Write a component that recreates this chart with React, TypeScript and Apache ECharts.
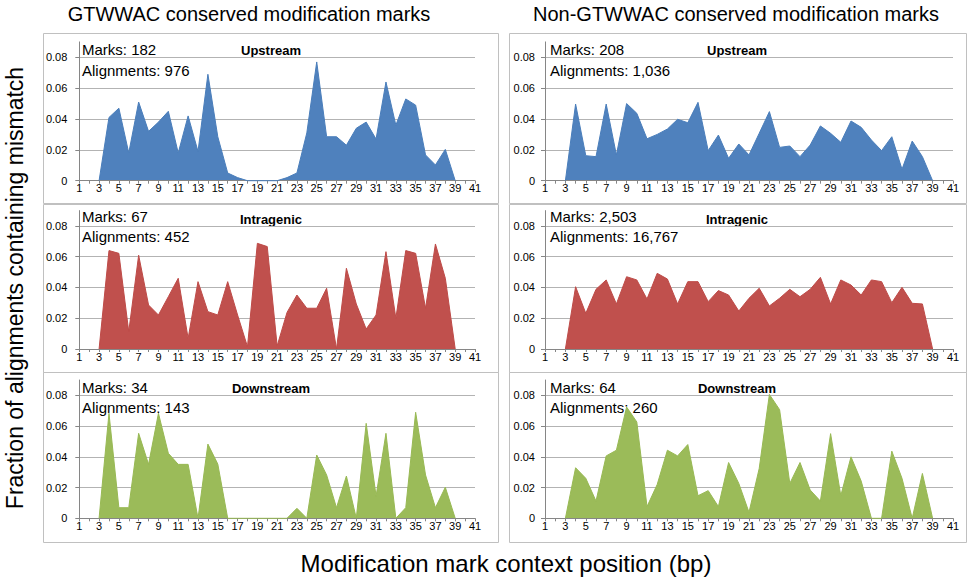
import React, { useEffect, useRef } from "react";
import * as echarts from "echarts";

const positions: string[] = Array.from({ length: 41 }, (_, i) => String(i + 1));

const gtUp = [null, null, 0, 0.041, 0.047, 0.018, 0.051, 0.032, 0.038, 0.045, 0.018, 0.042, 0.019, 0.069, 0.0285, 0.005, 0.002, 0, 0, 0, 0, 0.002, 0.005, 0.031, 0.077, 0.0285, 0.0285, 0.023, 0.034, 0.038, 0.027, 0.064, 0.036, 0.053, 0.049, 0.0167, 0.0102, 0.0203, 0, null, null];
const ngUp = [null, null, 0, 0.0497, 0.0162, 0.0156, 0.0497, 0.0167, 0.05, 0.0437, 0.0272, 0.03, 0.0335, 0.0398, 0.0376, 0.0508, 0.0195, 0.0296, 0.0145, 0.0238, 0.0167, 0.0307, 0.0448, 0.0216, 0.0225, 0.0156, 0.0231, 0.0355, 0.0307, 0.0249, 0.0387, 0.0346, 0.0264, 0.0195, 0.0285, 0.0074, 0.0257, 0.0156, 0, null, null];
const gtIntra = [null, null, 0, 0.064, 0.0622, 0.0113, 0.061, 0.0286, 0.0221, 0.034, 0.046, 0.0069, 0.0438, 0.0243, 0.0221, 0.0438, 0.0221, 0.0015, 0.0687, 0.0666, 0.002, 0.0238, 0.0351, 0.0265, 0.0265, 0.0395, 0, 0.0525, 0.0293, 0.013, 0.0221, 0.0633, 0.02, 0.064, 0.0622, 0.0265, 0.0683, 0.046, 0, null, null];
const ngIntra = [null, null, 0, 0.0405, 0.0232, 0.0388, 0.0449, 0.0293, 0.047, 0.0449, 0.0325, 0.0492, 0.0455, 0.0293, 0.0438, 0.0438, 0.0308, 0.038, 0.0351, 0.0247, 0.033, 0.0395, 0.028, 0.033, 0.0388, 0.034, 0.0388, 0.0466, 0.0293, 0.0449, 0.0416, 0.0351, 0.0449, 0.0438, 0.0301, 0.0401, 0.0297, 0.0293, 0, null, null];
const gtDown = [null, null, 0, 0.0683, 0.0069, 0.0069, 0.0553, 0.0351, 0.0683, 0.0423, 0.0351, 0.0351, 0, 0.0483, 0.0353, 0, 0, 0, 0, 0, 0, 0, 0.0065, 0, 0.0412, 0.0282, 0.0069, 0.0275, 0, 0.0618, 0.0145, 0.0553, 0, 0.0069, 0.069, 0.0282, 0.0069, 0.0202, 0, null, null];
const ngDown = [null, null, 0, 0.0329, 0.026, 0.0112, 0.0406, 0.0443, 0.0724, 0.0627, 0.0076, 0.022, 0.0443, 0.0406, 0.048, 0.0147, 0.018, 0.0076, 0.0363, 0.0227, 0.0039, 0.0324, 0.0806, 0.0707, 0.0227, 0.0363, 0.0184, 0.0112, 0.0551, 0.0147, 0.04, 0.0242, 0, 0, 0.0437, 0.026, 0, 0.0292, 0, null, null];

const columnTitles = ["GTWWAC conserved modification marks", "Non-GTWWAC conserved modification marks"];
const regionNames = ["Upstream", "Intragenic", "Downstream"];
const marksLabels = [["Marks: 182", "Marks: 67", "Marks: 34"], ["Marks: 208", "Marks: 2,503", "Marks: 64"]];
const alignLabels = [["Alignments: 976", "Alignments: 452", "Alignments: 143"], ["Alignments: 1,036", "Alignments: 16,767", "Alignments: 260"]];
const yTitle = "Fraction of alignments containing mismatch";
const xTitle = "Modification mark context position (bp)";

const panelData = [[gtUp, gtIntra, gtDown], [ngUp, ngIntra, ngDown]];
const rowColors = ["#4F81BD", "#C0504D", "#9BBB59"];
const rowLineColors = ["#4A7EBB", "#BE4B48", "#98B954"];

const FONT = "'Liberation Sans', Arial, sans-serif";

export default function App() {
  const ref = useRef<HTMLDivElement>(null);
  useEffect(() => {
    if (!ref.current) return;
    const chart = echarts.init(ref.current, undefined, { renderer: "svg" });

    const colGeom = [
      { left: 79.3, width: 395.7, box: [43, 498], marksX: 82, regionX: 271, titleX: 249 },
      { left: 545, width: 408, box: [509, 966], marksX: 550, regionX: 737, titleX: 736 },
    ];
    const rowGeom = [
      { top: 41.9, height: 138.8, box: [33, 203], marksY: 49.3, alignY: 70, regionY: 50.7 },
      { top: 210.6, height: 138.4, box: [204, 372], marksY: 216.7, alignY: 236.7, regionY: 219.3 },
      { top: 380, height: 138.3, box: [372, 542], marksY: 387.7, alignY: 407.5, regionY: 388.3 },
    ];

    const grid: any[] = [];
    const xAxis: any[] = [];
    const yAxis: any[] = [];
    const series: any[] = [];
    const graphic: any[] = [];

    colGeom.forEach((c, ci) => {
      graphic.push({
        type: "text",
        style: { text: columnTitles[ci], x: c.titleX, y: 13.8, font: `20px ${FONT}`, fill: "#000", align: "center", verticalAlign: "middle" },
      });
      rowGeom.forEach((r, ri) => {
        const idx = ci * 3 + ri;
        grid.push({ left: c.left, top: r.top, width: c.width, height: r.height, containLabel: false });
        xAxis.push({
          type: "category",
          gridIndex: idx,
          data: positions,
          boundaryGap: false,
          z: 3,
          axisLine: { show: true, lineStyle: { color: "#868686", width: 1 } },
          axisTick: { show: true, interval: 0, length: 3, lineStyle: { color: "#868686" } },
          axisLabel: { interval: 1, fontSize: 11, color: "#000", margin: 2, fontFamily: FONT },
          splitLine: { show: false },
        });
        yAxis.push({
          type: "value",
          gridIndex: idx,
          min: 0,
          max: 0.09,
          interval: 0.02,
          axisLine: { show: true, lineStyle: { color: "#868686", width: 1 } },
          axisTick: { show: true, length: 4, lineStyle: { color: "#868686" } },
          axisLabel: {
            showMaxLabel: false,
            fontSize: 11,
            color: "#000",
            fontFamily: FONT,
            margin: ci === 0 ? 12 : 10,
            formatter: (v: number) => (v === 0 ? "0" : v > 0.085 ? "" : v.toFixed(2)),
          },
          splitLine: { show: true, showMaxLine: false, lineStyle: { color: "#b3b3b3", width: 1 } },
        });
        series.push({
          type: "line",
          xAxisIndex: idx,
          yAxisIndex: idx,
          data: panelData[ci][ri],
          symbol: "none",
          showSymbol: false,
          connectNulls: false,
          lineStyle: { color: rowLineColors[ri], width: 1 },
          areaStyle: { color: rowColors[ri], opacity: 1 },
          itemStyle: { color: rowColors[ri] },
          clip: false,
        });
        graphic.push({
          type: "rect",
          shape: { x: c.box[0] + 0.5, y: r.box[0] + 0.5, width: c.box[1] - c.box[0], height: r.box[1] - r.box[0] },
          style: { fill: "none", stroke: "#c0c0c0", lineWidth: 1 },
          silent: true,
        });
        graphic.push({
          type: "text",
          style: { text: marksLabels[ci][ri], x: c.marksX, y: r.marksY, font: `15px ${FONT}`, fill: "#000", align: "left", verticalAlign: "middle" },
        });
        graphic.push({
          type: "text",
          style: { text: alignLabels[ci][ri], x: c.marksX, y: r.alignY, font: `15px ${FONT}`, fill: "#000", align: "left", verticalAlign: "middle" },
        });
        graphic.push({
          type: "text",
          style: { text: regionNames[ri], x: c.regionX, y: r.regionY, font: `bold 13px ${FONT}`, fill: "#000", align: "center", verticalAlign: "middle" },
        });
      });
    });

    graphic.push({
      type: "text",
      x: 15,
      y: 288,
      rotation: Math.PI / 2,
      style: { text: yTitle, x: 0, y: 0, font: `23px ${FONT}`, fill: "#000", align: "center", verticalAlign: "middle" },
    });
    graphic.push({
      type: "text",
      style: { text: xTitle, x: 506, y: 563.5, font: `24px ${FONT}`, fill: "#000", align: "center", verticalAlign: "middle" },
    });

    chart.setOption({
      animation: false,
      backgroundColor: "#fff",
      textStyle: { fontFamily: FONT },
      grid,
      xAxis,
      yAxis,
      series,
      graphic,
    });
    return () => chart.dispose();
  }, []);

  return <div ref={ref} style={{ position: "fixed", left: 0, top: 0, width: 970, height: 577 }} />;
}
